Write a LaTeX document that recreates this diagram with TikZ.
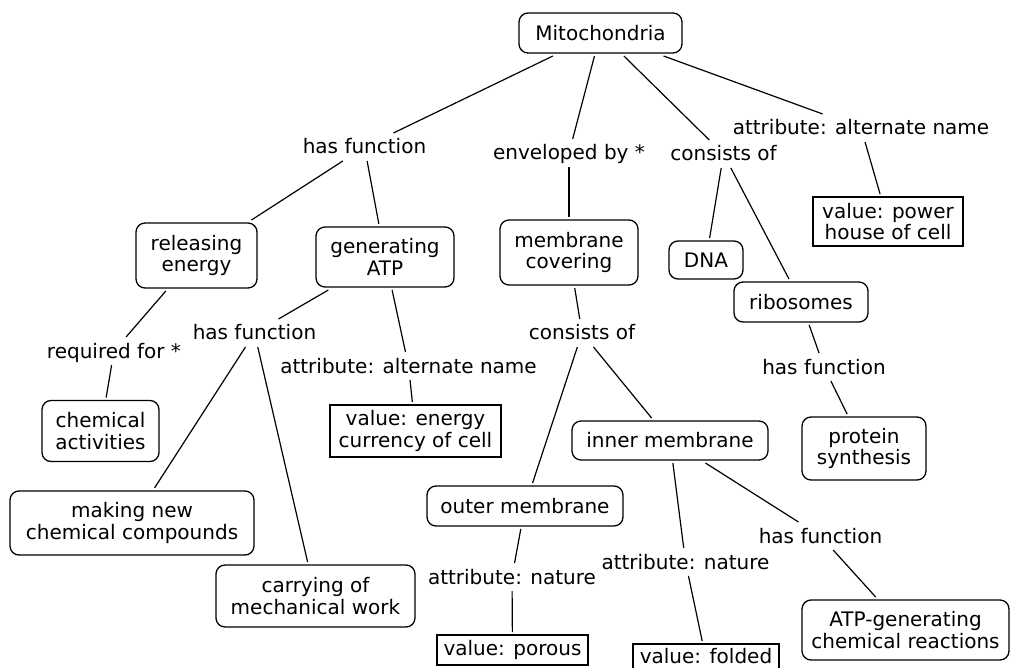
\documentclass[tikz,border=0pt]{standalone}
\usepackage{fontspec}
\setmainfont{DejaVu Sans}
\begin{document}
\begin{tikzpicture}[x=1pt,y=-1pt,
  every node/.style={font=\fontsize{20}{21.5}\selectfont, align=center},
  cbox/.style={draw, line width=1.3pt, rounded corners=9pt, inner sep=0pt, outer sep=3pt},
  vbox/.style={draw, line width=1.3pt, inner sep=0pt, outer sep=3pt},
  lbl/.style={inner sep=1pt, outer sep=0pt, text height=20pt, text depth=6pt},
  link/.style={line width=1.2pt}]
\fill[white] (0,0) rectangle (1012,668);
\useasboundingbox (0,0) rectangle (1012,668);
% concept boxes
\node[cbox, minimum width=163, minimum height=40] (mito) at (600.5,33) {Mitochondria};
\node[cbox, minimum width=121, minimum height=65] (rel) at (196.5,255.5) {releasing\\energy};
\node[cbox, minimum width=138, minimum height=60] (gen) at (385,257) {generating\\ATP};
\node[cbox, minimum width=138, minimum height=65] (memcov) at (569,252.5) {membrane\\covering};
\node[cbox, minimum width=74, minimum height=38] (dna) at (706,260) {DNA};
\node[cbox, minimum width=134, minimum height=40] (ribo) at (801,302) {ribosomes};
\node[cbox, minimum width=117, minimum height=61] (chem) at (100.5,431) {chemical\\activities};
\node[cbox, minimum width=244, minimum height=64] (making) at (132,523) {making new\\chemical compounds};
\node[cbox, minimum width=199, minimum height=62] (carry) at (315.5,596) {carrying of\\mechanical work};
\node[cbox, minimum width=196, minimum height=40] (outer) at (525,506) {outer membrane};
\node[cbox, minimum width=196, minimum height=39] (inner) at (670,440.5) {inner membrane};
\node[cbox, minimum width=124, minimum height=63] (protein) at (864,448.5) {protein\\synthesis};
\node[cbox, minimum width=207, minimum height=60] (atpgen) at (905.5,630) {ATP-generating\\chemical reactions};
% value boxes
\node[vbox, minimum width=150, minimum height=49] (vpower) at (888,221.5) {value: power\\house of cell};
\node[vbox, minimum width=171, minimum height=52] (venergy) at (415.5,431) {value: energy\\currency of cell};
\node[vbox, minimum width=151, minimum height=30] (vporous) at (512.5,650) {value: porous};
\node[vbox, minimum width=146, minimum height=30, text depth=6pt] (vfolded) at (706,659) {value: folded};
% linking phrases
\node[lbl] (hf1) at (364.5,147) {has function};
\node[lbl] (env) at (569,153) {enveloped by *};
\node[lbl] (cons1) at (723.5,154) {consists of};
\node[lbl] (attr1) at (861,128) {attribute: alternate name};
\node[lbl] (req) at (114,351) {required for *};
\node[lbl] (hf2) at (254.5,333) {has function};
\node[lbl] (attr2) at (408.5,366) {attribute: alternate name};
\node[lbl] (cons2) at (582,333) {consists of};
\node[lbl] (hf4) at (824,367) {has function};
\node[lbl] (nat1) at (512,577) {attribute: nature};
\node[lbl] (nat2) at (685.5,562) {attribute: nature};
\node[lbl] (hf3) at (820.5,536) {has function};
% connectors
\draw[link] (mito) -- (hf1);
\draw[link] (hf1) -- (rel);
\draw[link] (hf1) -- (gen);
\draw[link] (mito) -- (env);
\draw[link] (env) -- (memcov);
\draw[link] (mito) -- (cons1);
\draw[link] (cons1) -- (dna);
\draw[link] (cons1) -- (ribo);
\draw[link] (mito) -- (attr1);
\draw[link] (attr1) -- (vpower);
\draw[link] (rel) -- (req);
\draw[link] (req) -- (chem);
\draw[link] (gen) -- (hf2);
\draw[link] (hf2) -- (making);
\draw[link] (hf2) -- (carry);
\draw[link] (gen) -- (attr2);
\draw[link] (attr2) -- (venergy);
\draw[link] (memcov) -- (cons2);
\draw[link] (cons2) -- (outer);
\draw[link] (cons2) -- (inner);
\draw[link] (outer) -- (nat1);
\draw[link] (nat1) -- (vporous);
\draw[link] (inner) -- (nat2);
\draw[link] (nat2) -- (vfolded);
\draw[link] (inner) -- (hf3);
\draw[link] (hf3) -- (atpgen);
\draw[link] (ribo) -- (hf4);
\draw[link] (hf4) -- (protein);
\end{tikzpicture}
\end{document}
